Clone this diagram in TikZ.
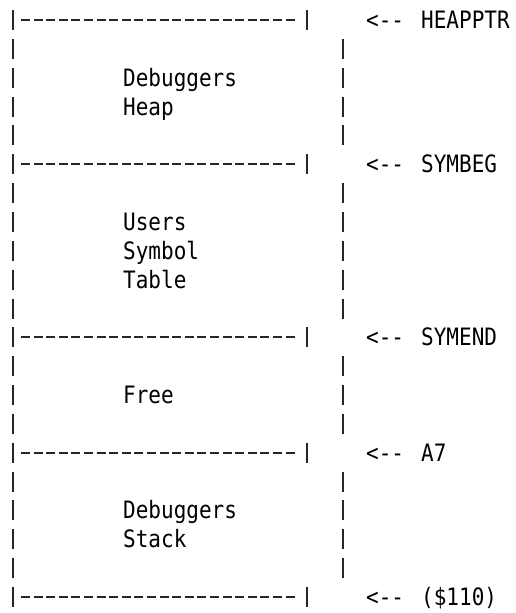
\documentclass[tikz,border=0pt]{standalone}
\usepackage{fontspec}
\usepackage{graphicx}
\setmonofont{DejaVu Sans Mono}
\newcommand{\tallt}[1]{\scalebox{1}[1.14]{#1}}
\begin{document}
\begin{tikzpicture}[x=1pt,y=-1pt,
  txt/.style={anchor=base west,inner sep=0pt,font=\ttfamily\fontsize{21}{21}\selectfont},
  bar/.style={line width=1.8pt,black!85},
  sepline/.style={line width=2pt,black!85,dash pattern=on 9pt off 3.6pt}]
\useasboundingbox (0,0) rectangle (515,613);
% separator rows (with the short right bar)
\foreach \r/\n in {1/h,6/sb,12/se,16/a,21/b}{
  \pgfmathsetmacro{\yy}{round(20+28.85*(\r-1))}
  \coordinate (L\n) at (21,\yy);
  \coordinate (R\n) at (298,\yy);
  \draw[sepline] (L\n) -- (R\n);
  \draw[bar] (13,\yy-10) -- (13,\yy+10);
  \draw[bar] (307,\yy-10) -- (307,\yy+10);
}
% interior rows (with the wide right bar)
\foreach \r in {2,3,4,5,7,8,9,10,11,13,14,15,17,18,19,20}{
  \pgfmathsetmacro{\yy}{round(20+28.85*(\r-1))}
  \draw[bar] (13,\yy-10) -- (13,\yy+10);
  \draw[bar] (343,\yy-10) -- (343,\yy+10);
}
% region texts
\node[txt] (t1) at (123,{20+28.85*2+8.5}) {\tallt{Debuggers}};
\node[txt] (t2) at (123,{20+28.85*3+8.5}) {\tallt{Heap}};
\node[txt] (t3) at (123,{20+28.85*7+8.5}) {\tallt{Users}};
\node[txt] (t4) at (123,{20+28.85*8+8.5}) {\tallt{Symbol}};
\node[txt] (t5) at (123,{20+28.85*9+8.5}) {\tallt{Table}};
\node[txt] (t6) at (123,{20+28.85*13+8.5}) {\tallt{Free}};
\node[txt] (t7) at (123,{20+28.85*17+8.5}) {\tallt{Debuggers}};
\node[txt] (t8) at (123,{20+28.85*18+8.5}) {\tallt{Stack}};
% pointer labels
\node[txt] (ah) at (366,{20+8.5}) {\tallt{<--}};
\node[txt] (lh) at (421,{20+8.5}) {\tallt{HEAPPTR}};
\node[txt] (asb) at (366,{20+28.85*5+8.5}) {\tallt{<--}};
\node[txt] (lsb) at (421,{20+28.85*5+8.5}) {\tallt{SYMBEG}};
\node[txt] (ase) at (366,{20+28.85*11+8.5}) {\tallt{<--}};
\node[txt] (lse) at (421,{20+28.85*11+8.5}) {\tallt{SYMEND}};
\node[txt] (aa) at (366,{20+28.85*15+8.5}) {\tallt{<--}};
\node[txt] (la) at (421,{20+28.85*15+8.5}) {\tallt{A7}};
\node[txt] (ab) at (366,{20+28.85*20+8.5}) {\tallt{<--}};
\node[txt] (lb) at (421,{20+28.85*20+8.5}) {\tallt{(\$110)}};
\end{tikzpicture}
\end{document}
